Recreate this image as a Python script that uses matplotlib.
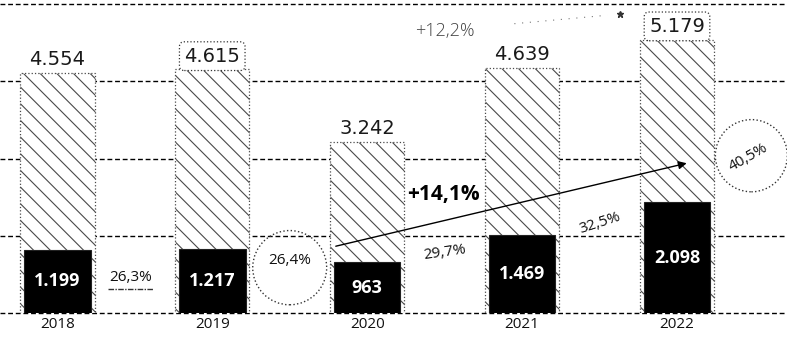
import matplotlib
import matplotlib.pyplot as plt
import numpy as np
from matplotlib.patches import Ellipse

plt.rcParams['font.family'] = ['Open Sans', 'DejaVu Sans']
plt.rcParams['hatch.linewidth'] = 0.8

# ---------------- data ---------------- #
years = ['2018', '2019', '2020', '2021', '2022']
totals = [4554, 4615, 3242, 4639, 5179]
totals_lbl = ['4.554', '4.615', '3.242', '4.639', '5.179']
part = [1199, 1217, 963, 1469, 2098]
part_lbl = ['1.199', '1.217', '963', '1.469', '2.098']
shares = ['26,3%', '26,4%', '29,7%', '32,5%', '40,5%']
growth_part = '+14,1%'
growth_total = '+12,2%'

grid_step = 1463
x = np.arange(len(years))

# ---------------- figure ---------------- #
fig = plt.figure(figsize=(7.87, 3.37), dpi=100)
ax = fig.add_axes([0.0, 0.071, 1.0, 0.917])
ax.set_xlim(-0.37, 4.71)
ax.set_ylim(0, 4 * grid_step)

for k in range(5):
    ax.axhline(k * grid_step, color='black', lw=1.0, ls=(0, (3.5, 2)), zorder=0, clip_on=False)

ax.bar(x, totals, width=0.48, color='white', edgecolor='#4a4a4a', hatch='\\\\',
       lw=0.9, ls=':', zorder=2)
ax.bar(x, part, width=0.43, color='black', edgecolor='#222222', lw=0.8, zorder=3)

for i in range(len(years)):
    bb = None
    if i in (1, 4):
        bb = dict(boxstyle='round,pad=0.25', fc='white', ec='#333333', ls=':', lw=0.9)
    ax.text(x[i], totals[i] + 250, totals_lbl[i], ha='center', va='center',
            fontsize=14, color='#1a1a1a', family=['DejaVu Sans'], bbox=bb, zorder=5)
    ax.text(x[i], part[i] / 2, part_lbl[i], ha='center', va='center',
            fontsize=13, color='white', fontweight='bold', zorder=5)

# share labels between the bars
share_pos = [(0.47, 665, 0), (1.50, 990, 0), (2.50, 1140, 8), (3.50, 1710, 18)]
for s, (sx, sy, rot) in zip(shares, share_pos):
    ax.text(sx, sy, s, ha='center', va='center', fontsize=11, color='#111111',
            rotation=rot, zorder=6)
ax.plot([0.33, 0.62], [450, 450], color='#333333', lw=1.0, ls=(0, (4, 1, 1, 1)), zorder=6)
ax.add_patch(Ellipse((1.50, 860), 74 / 155, 74 * 19, fill=False, ec='#333333', ls=':', lw=1.0, zorder=6))
ax.add_patch(Ellipse((4.48, 2980), 72 / 155, 72 * 19, fc='white', ec='#333333', ls=':', lw=1.0, zorder=4))
ax.text(4.46, 2945, shares[4], ha='center', va='center', fontsize=11, color='#111111',
        rotation=30, zorder=6)

# growth arrow
ax.annotate('', xy=(4.08, 2850), xytext=(1.78, 1254),
            arrowprops=dict(arrowstyle='-|>', color='black', lw=1.0, mutation_scale=12), zorder=7)
ax.text(2.49, 2242, growth_part, ha='center', va='center', fontsize=15, fontweight='bold',
        color='black', zorder=7)

# faint total growth note
ax.text(2.50, 5339, growth_total, ha='center', va='center', fontsize=13, color='#444444',
        fontweight='light', zorder=7)
ax.plot([2.95, 3.55], [5480, 5640], color='#777777', lw=0.8, ls=(0, (1, 6)), zorder=7)
ax.plot([3.63], [5660], marker='*', color='#333333', ms=5, zorder=7)

ax.set_xticks(x)
ax.set_xticklabels(years, fontsize=11, color='#111111')
ax.tick_params(axis='x', length=0, pad=3)
ax.set_yticks([])
for sp in ax.spines.values():
    sp.set_visible(False)

plt.savefig('out.png', dpi=100)
